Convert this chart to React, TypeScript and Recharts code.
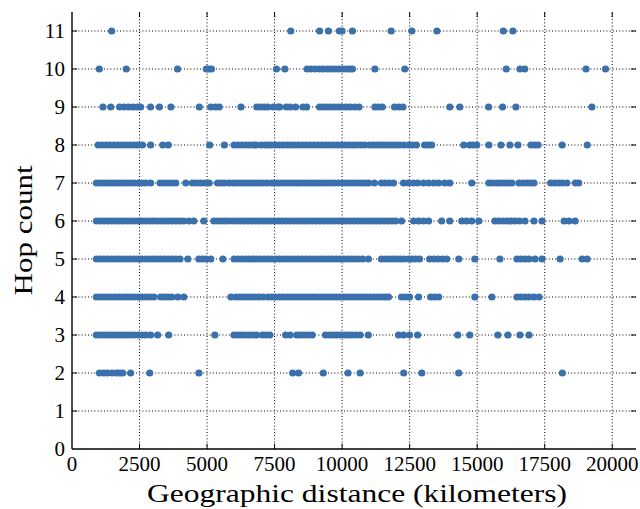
import React from 'react';
import { ScatterChart, Scatter, XAxis, YAxis, ReferenceLine } from 'recharts';

// Geographic distance (km) of each path, grouped by hop count
const hop2 = [1018, 1175, 1311, 1489, 1650, 1762, 1874, 2170, 2879, 4699, 8169, 8387, 9303, 10218, 10668, 12280, 12950, 14316, 18154];
const hop3 = [906, 1050, 1190, 1330, 1470, 1610, 1750, 1890, 2030, 2170, 2310, 2450, 2590, 2730, 2911, 3171, 3580, 5288,
  5996, 6130, 6270, 6410, 6550, 6690, 6830, 7049, 7180, 7322, 7909, 8073, 8319, 8460, 8600, 8750, 8893,
  9384, 9520, 9660, 9800, 9940, 10080, 10220, 10360, 10500, 10668, 10969, 12088, 12274, 12497, 12794,
  14280, 14726, 15766, 16138, 16584, 16918];
const hop4 = [906, 1050, 1190, 1330, 1470, 1610, 1750, 1890, 2030, 2170, 2310, 2450, 2590, 2730, 2870, 3032,
  3282, 3420, 3560, 3700, 3916, 4139, 5884, 6070, 6210, 6350, 6490, 6630, 6770, 6910, 7070,
  7256, 7400, 7540, 7680, 7820, 7960, 8100, 8240, 8380, 8520, 8660, 8800, 8940, 9080, 9220, 9360, 9500,
  9640, 9780, 9920, 10060, 10200, 10340, 10480, 10620, 10760, 10900, 11040, 11180, 11320, 11460, 11600, 11717,
  12200, 12350, 12497, 12831, 13277, 13420, 13575, 14912, 15545, 16473, 16620, 16770, 16920, 17100, 17290];
const hop5 = [906, 1040, 1180, 1320, 1460, 1600, 1740, 1880, 2020, 2160, 2300, 2440, 2580, 2720, 2860, 3000,
  3140, 3280, 3420, 3560, 3700, 3840, 4000, 4288, 4696, 4830, 4960, 5140, 5586,
  6000, 6140, 6280, 6420, 6560, 6700, 6840, 6980, 7120, 7260, 7400, 7540, 7680, 7820, 7960, 8100, 8240,
  8380, 8520, 8660, 8800, 8940, 9080, 9220, 9360, 9500, 9640, 9780, 9920, 10060, 10200, 10340, 10480,
  10620, 10760, 10974, 11457, 11600, 11740, 11880, 12020, 12160, 12300, 12460, 12571, 12720, 12868,
  13240, 13400, 13560, 13720, 13872, 14318, 14912, 15842, 16473, 16620, 16770, 16920, 17142, 17401,
  18070, 18888, 19074];
const hop6 = [906, 1050, 1190, 1330, 1470, 1610, 1750, 1890, 2030, 2170, 2310, 2450, 2590, 2730, 2870, 3010,
  3150, 3290, 3430, 3570, 3710, 3850, 3990, 4130, 4325, 4510, 4881,
  5252, 5390, 5530, 5670, 5810, 5959, 6100, 6240, 6380, 6520, 6660, 6800, 6940, 7080, 7220, 7360, 7500,
  7640, 7780, 7920, 8060, 8200, 8340, 8480, 8620, 8760, 8900, 9040, 9180, 9320, 9460, 9600, 9740, 9880,
  10020, 10160, 10300, 10440, 10580, 10720, 10860, 11000, 11140, 11280, 11420, 11560, 11700, 11840, 11980,
  12200, 12646, 12830, 13010, 13203, 13686, 13984, 14429, 14600, 14800, 15061,
  15655, 15800, 15950, 16100, 16250, 16400, 16560, 16770, 17104, 17401, 18219, 18400, 18628];
const hop7 = [906, 1050, 1190, 1330, 1470, 1610, 1750, 1890, 2030, 2170, 2310, 2450, 2590, 2730, 2912,
  3258, 3400, 3550, 3700, 3841, 4213, 4462, 4600, 4750, 4893, 5078, 5390, 5520, 5636,
  5810, 5950, 6090, 6230, 6370, 6510, 6650, 6790, 6930, 7070, 7210, 7370,
  7480, 7620, 7760, 7900, 8040, 8180, 8320, 8460, 8600, 8740, 8880, 9020, 9160, 9300, 9440, 9580, 9720,
  9860, 10000, 10140, 10280, 10420, 10560, 10700, 10840, 10980, 11197, 11457, 11600, 11750, 11903,
  12274, 12460, 12646, 12800, 13017, 13203, 13400, 13575, 13798, 13984, 14801,
  15433, 15570, 15720, 15860, 16000, 16140, 16287, 16547, 16700, 16840, 16980, 17104,
  17720, 17870, 18010, 18150, 18320, 18640, 18760];
const hop8 = [970, 1120, 1260, 1400, 1550, 1700, 1840, 1990, 2130, 2280, 2420, 2609, 2910, 3360, 3565, 5095, 5642,
  6000, 6140, 6290, 6430, 6580, 6720, 6817, 7000, 7130, 7260, 7375,
  7527, 7670, 7810, 7960, 8100, 8240, 8390, 8530, 8680, 8820, 8960, 9110, 9250, 9400, 9540, 9680, 9830,
  9970, 10110, 10260, 10400, 10540, 10690, 10830, 11010, 11150, 11290, 11430, 11560, 11700, 11840, 11980,
  12120, 12274, 12460, 12600, 12750, 13054, 13200, 13314, 14503, 14726, 14850, 14986, 15433, 15880,
  16212, 16510, 16993, 17120, 17253, 18145, 19074];
const hop9 = [1147, 1434, 1762, 1926, 2090, 2254, 2418, 2541, 2910, 3237, 3661, 4713, 5136, 5300, 5450, 6256,
  6844, 6980, 7117, 7254, 7458, 7620, 7691, 7936, 8073, 8278, 8551, 8688, 9166, 9303, 9439, 9576, 9712,
  9849, 9985, 10149, 10300, 10464, 10627, 11215, 11350, 11488, 11939, 12100, 12253, 13988, 14357,
  15422, 15941, 16433, 19247];
const hop10 = [1011, 2008, 3907, 4972, 5068, 5163, 7568, 7882, 8701, 8838, 9002, 9166, 9303, 9467, 9603,
  9740, 9876, 10013, 10149, 10286, 10382, 11215, 12321, 16078, 16583, 16761, 19029, 19753];
const hop11 = [1470, 8100, 9166, 9494, 9900, 10000, 10382, 11816, 12581, 13510, 15969, 16324];

const hopCounts = [2, 3, 4, 5, 6, 7, 8, 9, 10, 11];
const distancesByHop = [hop2, hop3, hop4, hop5, hop6, hop7, hop8, hop9, hop10, hop11];

const xTicks = [0, 2500, 5000, 7500, 10000, 12500, 15000, 17500, 20000];
const yTicks = [0, 1, 2, 3, 4, 5, 6, 7, 8, 9, 10, 11];
const X_MAX = 20880;
const Y_MAX = 11.5;

const points = distancesByHop.flatMap((arr, i) => arr.map((d) => ({ x: d, y: hopCounts[i] })));

const FONT = '"Liberation Serif", "Times New Roman", serif';
const DOT = '#3a70ab';

const Dot = (props: any) => {
  const { cx, cy } = props;
  if (cx == null || cy == null) return null;
  return <circle cx={cx} cy={cy} r={3.6} fill={DOT} />;
};

const XTitle = (props: any) => {
  const vb = props.viewBox || { x: 0, y: 0, width: 0, height: 0 };
  return (
    <text x={vb.x + vb.width / 2 + 3} y={vb.y + 53} textAnchor="middle" fill="#000" fontSize={26}
      fontFamily={FONT} textLength={420} lengthAdjust="spacingAndGlyphs">
      Geographic distance (kilometers)
    </text>
  );
};

const YTitle = (props: any) => {
  const vb = props.viewBox || { x: 0, y: 0, width: 0, height: 0 };
  const cx = vb.x + 20;
  const cy = vb.y + vb.height / 2;
  return (
    <text x={cx} y={cy} transform={`rotate(-90, ${cx}, ${cy})`} textAnchor="middle" fill="#000" fontSize={26}
      fontFamily={FONT} textLength={130} lengthAdjust="spacingAndGlyphs">
      Hop count
    </text>
  );
};

export default function App() {
  const tickX = X_MAX * 0.009;
  const tickY = Y_MAX * 0.012;
  return (
    <div style={{ position: 'absolute', left: 0, top: 0, width: 640, height: 509, background: '#fff' }}>
      <ScatterChart width={640} height={509} margin={{ top: 12, right: 4, bottom: 0, left: 12 }}>
        <XAxis
          type="number"
          dataKey="x"
          domain={[0, X_MAX]}
          ticks={xTicks}
          interval={0}
          allowDataOverflow
          height={60}
          tickSize={0}
          tickMargin={7}
          axisLine={{ stroke: '#000', strokeWidth: 1.4 }}
          tick={{ fill: '#000', fontSize: 21, fontFamily: FONT }}
          label={<XTitle />}
        />
        <YAxis
          type="number"
          dataKey="y"
          domain={[0, Y_MAX]}
          ticks={yTicks}
          interval={0}
          allowDataOverflow
          width={60}
          tickSize={0}
          tickMargin={7}
          axisLine={{ stroke: '#000', strokeWidth: 1.4 }}
          tick={{ fill: '#000', fontSize: 21, fontFamily: FONT }}
          label={<YTitle />}
        />
        <Scatter data={points} shape={<Dot />} isAnimationActive={false} />
        {xTicks.filter((t) => t > 0).map((t) => (
          <ReferenceLine key={'vx' + t} x={t} stroke="#000" strokeWidth={1} strokeDasharray="1 2.2" />
        ))}
        {yTicks.filter((t) => t > 0).map((t) => (
          <ReferenceLine key={'hy' + t} y={t} stroke="#000" strokeWidth={1} strokeDasharray="1 2.2" />
        ))}
        {xTicks.filter((t) => t > 0).map((t) => (
          <ReferenceLine key={'tt' + t} segment={[{ x: t, y: Y_MAX }, { x: t, y: Y_MAX - tickY }]} stroke="#000" strokeWidth={1} />
        ))}
        {xTicks.filter((t) => t > 0).map((t) => (
          <ReferenceLine key={'tb' + t} segment={[{ x: t, y: 0 }, { x: t, y: tickY }]} stroke="#000" strokeWidth={1} />
        ))}
        {yTicks.filter((t) => t > 0).map((t) => (
          <ReferenceLine key={'tr' + t} segment={[{ x: X_MAX, y: t }, { x: X_MAX - tickX, y: t }]} stroke="#000" strokeWidth={1} />
        ))}
        {yTicks.filter((t) => t > 0).map((t) => (
          <ReferenceLine key={'tl' + t} segment={[{ x: 0, y: t }, { x: tickX, y: t }]} stroke="#000" strokeWidth={1} />
        ))}
      </ScatterChart>
    </div>
  );
}
